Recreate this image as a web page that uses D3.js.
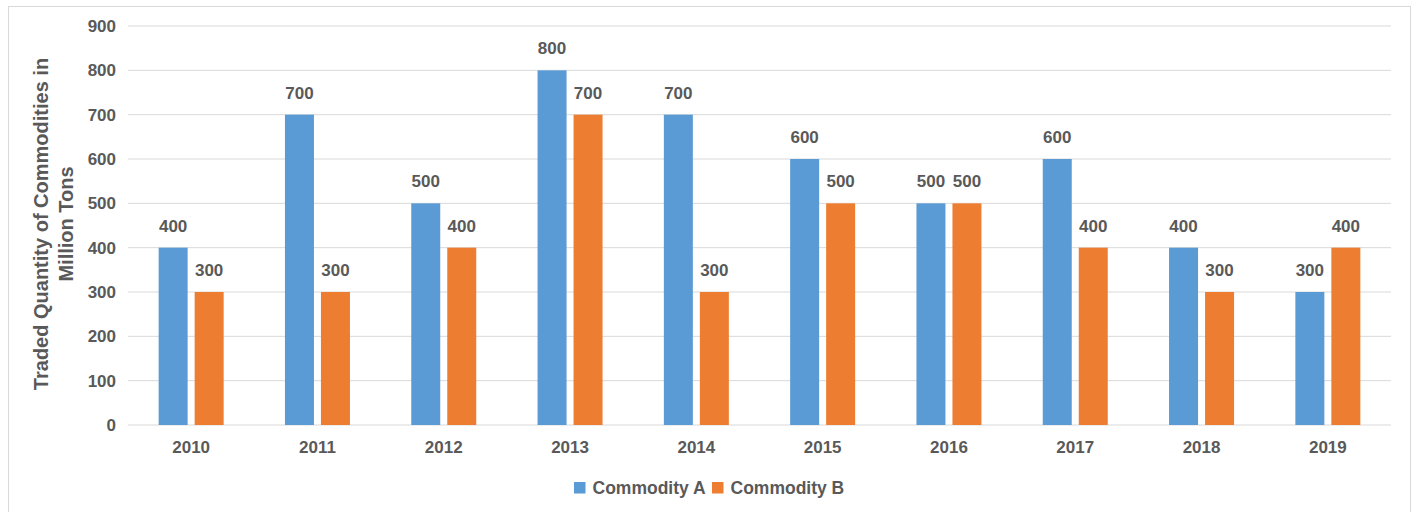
<!DOCTYPE html>
<html>
<head>
<meta charset="utf-8">
<script src="https://cdn.jsdelivr.net/npm/d3@7"></script>
<style>
  body { margin: 0; background: #fff; }
  svg { font-family: "Liberation Sans", Arial, sans-serif; }
</style>
</head>
<body>
<svg id="chart" width="1412" height="512"></svg>
<script>
const years = ['2010', '2011', '2012', '2013', '2014', '2015', '2016', '2017', '2018', '2019'];
const commodityA = [400, 700, 500, 800, 700, 600, 500, 600, 400, 300];
const commodityB = [300, 300, 400, 700, 300, 500, 500, 400, 300, 400];
const seriesNames = ['Commodity A', 'Commodity B'];
const yTicks = [0, 100, 200, 300, 400, 500, 600, 700, 800, 900];

const colors = ['#5B9BD5', '#ED7D31'];
const textColor = '#595959';

const svg = d3.select('#chart');

// outer frame
svg.append('rect')
  .attr('x', 8.5).attr('y', 6.5)
  .attr('width', 1402).attr('height', 520)
  .attr('fill', 'none').attr('stroke', '#d9d9d9');

const x = d3.scaleBand().domain(years).range([128, 1391]);
const y = d3.scaleLinear().domain([0, 900]).range([425, 26]);

// gridlines
svg.append('g')
  .selectAll('line')
  .data(yTicks)
  .enter()
  .append('line')
  .attr('x1', 128).attr('x2', 1391)
  .attr('y1', d => y(d)).attr('y2', d => y(d))
  .attr('stroke', '#d9d9d9').attr('stroke-width', 1);

// y tick labels
svg.append('g')
  .selectAll('text')
  .data(yTicks)
  .enter()
  .append('text')
  .attr('x', 116)
  .attr('y', d => y(d))
  .attr('dy', '0.35em')
  .attr('text-anchor', 'end')
  .attr('font-size', 17).attr('font-weight', 'bold')
  .attr('fill', textColor)
  .text(d => d);

// x labels
svg.append('g')
  .selectAll('text')
  .data(years)
  .enter()
  .append('text')
  .attr('x', d => x(d) + x.bandwidth() / 2)
  .attr('y', 453)
  .attr('text-anchor', 'middle')
  .attr('font-size', 17).attr('font-weight', 'bold')
  .attr('fill', textColor)
  .text(d => d);

const barW = 29;
const barGap = 7;
const offsets = [-(barW + barGap / 2), barGap / 2];
const seriesData = [commodityA, commodityB];

seriesData.forEach((vals, si) => {
  const g = svg.append('g');
  g.selectAll('rect')
    .data(vals)
    .enter()
    .append('rect')
    .attr('x', (d, i) => x(years[i]) + x.bandwidth() / 2 + offsets[si])
    .attr('y', d => y(d))
    .attr('width', barW)
    .attr('height', d => y(0) - y(d))
    .attr('fill', colors[si]);

  g.selectAll('text')
    .data(vals)
    .enter()
    .append('text')
    .attr('x', (d, i) => x(years[i]) + x.bandwidth() / 2 + offsets[si] + barW / 2)
    .attr('y', d => y(d) - 16)
    .attr('text-anchor', 'middle')
    .attr('font-size', 17).attr('font-weight', 'bold')
    .attr('fill', textColor)
    .text(d => d);
});

// y axis title
const title = svg.append('text')
  .attr('transform', 'translate(48,224) rotate(-90)')
  .attr('text-anchor', 'middle')
  .attr('font-size', 20).attr('font-weight', 'bold')
  .attr('fill', textColor);
title.append('tspan').attr('x', 0).attr('dy', 0).text('Traded Quantity of Commodities in');
title.append('tspan').attr('x', 0).attr('dy', 25).text('Million Tons');

// legend
const legendX = [574, 712];
const legend = svg.append('g')
  .selectAll('g')
  .data(seriesNames)
  .enter()
  .append('g')
  .attr('transform', (d, i) => `translate(${legendX[i]},482)`);
legend.append('rect')
  .attr('width', 11.5).attr('height', 11.5)
  .attr('fill', (d, i) => colors[i]);
legend.append('text')
  .attr('x', 18.5).attr('y', 11.5)
  .attr('font-size', 17.5).attr('font-weight', 'bold')
  .attr('fill', textColor)
  .text(d => d);
</script>
</body>
</html>
